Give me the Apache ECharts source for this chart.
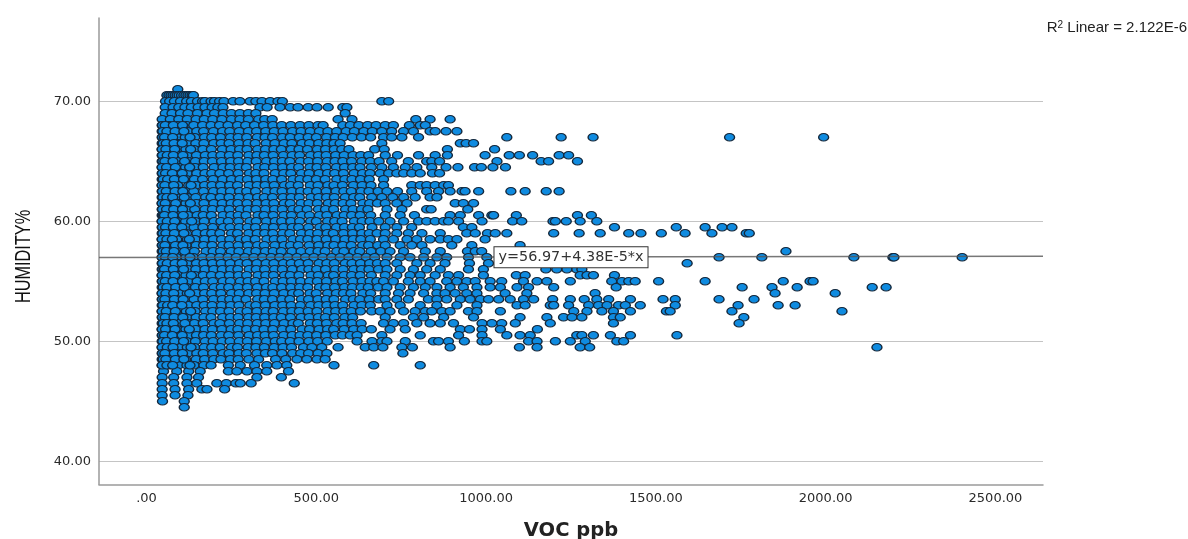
<!DOCTYPE html>
<html><head><meta charset="utf-8">
<style>html,body{margin:0;padding:0;background:#fff}#c{width:1188px;height:539px}</style>
<script src="https://cdn.jsdelivr.net/npm/echarts@6/dist/echarts.min.js"></script>
</head><body><div id="c"></div>
<script>
const xTicks=[0,500,1000,1500,2000,2500];
const yTicks=[40,50,60,70];
const fitIntercept=56.97, fitSlope=4.38e-5;
const xRange=[-140,2640];
const humidityLevels=[71,70.5,70,69.5,69,68.5,68,67.5,67,66.5,66,65.5,65,64.5,64,63.5,63,62.5,62,61.5,61,60.5,60,59.5,59,58.5,58,57.5,57,56.5,56,55.5,55,54.5,54,53.5,53,52.5,52,51.5,51,50.5,50,49.5,49,48.5,48,47.5,47,46.5,46,45.5,45,44.5];
const vocAtLevel=[
[92],
[60,66,72,78,84,90,96,103,110,116,122,128,134,138],
[56,68,82,100,118,132,150,165,172,190,200,215,228,255,275,305,322,340,364,387,400,693,713],
[55,78,95,113,132,152,172,193,210,225,334,355,393,423,446,476,502,535,578,590],
[55,75,100,122,150,178,200,226,250,275,300,322,585],
[46,70,95,120,146,170,195,222,250,275,300,330,348,370,564,605,793,835,894],
[46,66,92,118,139,165,190,215,240,268,292,318,345,372,398,425,452,478,505,520,578,600,625,651,676,703,727,774,806,821],
[46,72,96,121,148,168,197,224,245,273,300,324,351,376,402,430,455,482,509,534,560,588,612,640,665,693,722,757,786,835,850,882,914],
[46,64,90,114,142,171,192,218,247,270,295,326,349,371,400,423,450,476,500,530,556,579,606,633,660,698,722,752,801,1061,1221,1315,1717,1994],
[46,70,93,122,145,169,198,220,243,272,299,320,352,378,405,428,458,480,507,531,552,570,693,924,941,963],
[46,68,98,116,140,166,191,223,249,274,296,327,350,375,397,426,449,474,503,527,553,575,596,672,700,886,1025],
[46,73,94,119,147,173,195,219,244,269,301,325,347,373,403,429,451,483,506,529,557,582,608,631,654,703,739,801,850,886,997,1068,1098,1137,1215,1243],
[46,65,91,123,144,170,194,221,248,271,298,323,353,377,400,422,453,477,504,532,555,578,604,634,659,685,722,771,825,840,863,1032,1162,1184,1269],
[46,71,97,115,143,167,199,225,246,273,294,328,348,374,401,427,448,481,502,528,559,583,607,629,662,693,727,762,796,840,882,917,966,986,1020,1057],
[46,67,89,120,148,172,192,216,242,270,303,322,346,379,404,425,456,479,508,533,554,580,611,636,658,688,713,737,757,781,806,842,863],
[46,74,99,117,141,165,196,224,250,275,297,324,351,372,398,431,452,475,500,526,560,584,605,630,656,698],
[46,69,92,124,146,171,193,218,245,268,302,326,349,376,406,424,447,482,505,534,552,577,609,635,661,698,781,806,825,850,875,889],
[46,63,95,118,139,168,197,222,247,274,295,321,354,378,399,428,454,476,501,529,558,581,603,632,655,682,708,739,781,825,860,894,929,938,978,1073,1115,1177,1215],
[46,72,90,121,145,174,190,217,243,272,300,327,347,371,402,426,450,484,507,530,553,585,610,628,663,693,725,757,791,835,855],
[46,66,96,116,147,169,198,223,249,269,296,325,352,375,405,423,455,478,503,535,556,579,602,637,657,680,703,737,767,909,933,963],
[46,70,93,119,142,172,194,220,244,276,299,322,350,377,400,430,449,473,506,527,551,586,608,633,652,708,752,825,838,946],
[46,64,98,122,149,167,191,225,248,270,293,328,346,373,404,427,457,480,509,531,561,582,604,629,660,703,747,789,894,924,978,1017,1022,1089,1269,1310],
[46,75,91,115,144,170,199,219,241,271,304,323,353,379,398,425,451,483,500,533,554,576,612,635,658,684,717,757,801,825,850,875,889,919,988,1078,1105,1197,1204,1236,1277,1326],
[46,68,97,123,140,166,195,226,246,273,297,321,349,374,403,429,448,477,510,528,559,583,606,627,664,703,737,781,933,958,1378,1560,1645,1695,1724],
[46,71,94,118,148,173,192,216,250,268,301,326,348,372,401,422,456,481,504,532,550,580,607,634,656,679,703,737,771,811,865,943,968,1004,1027,1061,1199,1274,1336,1420,1456,1516,1586,1665,1766,1775],
[46,65,89,120,143,171,197,221,245,275,294,320,354,376,399,431,453,475,502,529,557,584,609,631,659,698,727,767,796,835,865,889,914,997],
[46,73,99,117,146,168,193,224,243,270,298,327,347,378,405,424,447,479,507,534,552,578,603,636,654,681,703,747,781,811,899,958,1100],
[46,69,92,124,141,175,196,218,249,272,300,322,350,373,397,428,455,482,505,526,560,581,611,628,661,690,717,757,821,865,945,968,987,1883],
[46,52,64,88,116,138,165,190,215,240,264,290,316,342,367,392,417,443,468,493,519,545,570,596,621,647,672,708,747,776,816,855,884,948,1002,1686,1812,2083,2198,2201,2402],
[46,72,95,119,147,169,194,220,246,274,296,325,352,375,403,426,450,476,508,531,553,585,605,630,657,680,703,737,796,835,879,951,1007,1592],
[46,66,90,121,145,172,198,223,248,269,302,323,348,377,400,429,457,478,501,527,556,579,610,633,655,683,708,747,786,825,865,948,992,1176,1208,1238,1267,1282],
[46,70,97,116,142,167,191,217,244,271,295,328,351,374,406,423,449,484,506,535,551,582,604,629,662,703,737,776,806,850,889,919,992,1089,1115,1277,1297,1316,1378],
[46,64,93,122,149,173,195,225,247,276,299,321,346,379,402,427,454,480,503,530,558,577,608,635,658,678,698,727,771,806,835,884,914,943,968,1012,1046,1110,1150,1179,1248,1370,1400,1420,1439,1508,1645,1875,1954,1963],
[46,74,91,118,144,168,199,220,242,270,297,326,353,372,398,425,451,475,509,528,554,583,606,632,653,682,708,747,786,821,855,894,933,973,1012,1042,1091,1125,1199,1383,1754,1842,1916,2137,2178],
[46,67,96,120,147,171,192,219,250,273,301,324,349,376,404,430,448,481,500,533,559,580,602,637,660,703,742,776,816,855,879,909,943,973,1056,1120,1321,1851,2028],
[46,71,89,115,140,166,197,223,245,268,293,327,347,371,399,422,456,477,505,529,552,586,609,628,656,684,703,737,771,830,855,884,924,953,983,1007,1037,1071,1110,1140,1196,1248,1289,1326,1361,1425,1521,1557,1686,1789],
[46,65,94,123,148,170,193,221,248,272,304,322,350,378,401,426,453,483,507,531,555,578,611,634,659,708,747,806,855,914,973,1091,1115,1189,1199,1243,1302,1331,1356,1390,1410,1454,1557,1742,1860,1910],
[46,73,98,117,143,174,195,218,243,275,296,325,352,373,403,428,450,476,502,534,557,581,603,630,663,688,717,757,791,821,840,870,894,948,973,1042,1258,1297,1341,1375,1425,1531,1542,1724,2048],
[46,68,92,119,146,169,190,224,247,270,300,323,348,375,397,424,455,479,506,527,553,584,607,703,786,816,875,963,1100,1179,1228,1253,1282,1375,1395,1759],
[46,70,95,121,141,167,198,216,244,274,298,326,351,377,405,431,447,482,503,530,560,579,605,632,698,727,757,796,835,865,904,988,1017,1046,1086,1189,1375,1745],
[46,63,90,116,145,172,194,222,249,269,295,321,346,372,400,425,458,480,508,533,551,582,610,635,662,717,762,924,951,988,1042,1151],
[46,72,96,124,147,168,191,220,242,271,302,327,349,374,404,429,452,475,501,528,556,577,600,620,693,806,919,988,1061,1100,1130,1267,1282,1316,1366,1425,1562],
[46,69,93,118,144,173,196,223,246,273,297,324,353,379,398,423,449,478,504,532,620,664,693,708,762,845,860,889,936,988,1002,1125,1150,1204,1248,1292,1385,1405],
[46,66,99,120,142,170,192,217,250,268,299,322,347,376,402,427,462,487,516,564,644,669,696,752,783,894,1098,1150,1277,1305,2151],
[46,74,91,122,148,167,195,225,243,272,294,325,350,371,399,430,454,477,505,531,755],
[46,68,97,115,146,171,198,219,247,270,301,330,380,410,443,472,502,526],
[46,70,94,119,140,169,190,241,276,318,354,384,413,552,669,806],
[50,89,124,158,241,266,296,325,354,418],
[46,80,119,153,325,397],
[46,80,119,148,207,235,263,276,308,435],
[46,84,124,163,178,230],
[46,84,122],
[47,111],
[111]
];
const clusterLevels=[68,67.5,67,66.5,66,65.5,65,64.5,64,63.5,63,62.5,62,61.5,61,60.5,60,59.5,59,58.5,58,57.5,57,56.5,56,55.5,55,54.5,54,53.5,53,52.5,52,51.5,51,50.5,50,49.5,49,48.5,48];
const vocClusterNearMin=[
[47,55,79,106],[48,60,84,110],[47,53,77,128],[49,58,81,105],[46,57,83,130],[47,61,79,107],[48,54,78,112],[46,59,85,127],[47,56,76,105],[49,62,82,109],
[46,54,80,131],[47,58,84,107],[48,60,77,111],[46,55,86,129],[47,59,80,106],[49,53,78,108],[46,61,83,133],[47,56,79,104],[48,57,82,110],[46,60,76,126],
[47,54,85,107],[49,58,81,112],[46,56,77,128],[47,61,84,105],[48,53,79,109],[46,59,83,132],[47,55,78,106],[49,60,86,111],[46,57,80,127],[47,54,82,108],
[48,62,77,104],[46,58,85,130],[47,55,81,107],[49,60,79,113],[46,56,84,126],[47,53,76,105],[48,59,83,109],[46,61,78,131],[47,54,82,106],[49,57,85,110],[46,60,77,128]
];
const points=[];
humidityLevels.forEach((h,i)=>vocAtLevel[i].forEach(v=>points.push([v,h])));
clusterLevels.forEach((h,i)=>vocClusterNearMin[i].forEach(v=>points.push([v,h])));
const fitLine=[[xRange[0],fitIntercept+fitSlope*xRange[0]],[xRange[1],fitIntercept+fitSlope*xRange[1]]];
const tickFont={fontFamily:'DejaVu Sans',fontSize:13,color:'#2a2a2a'};
const chart=echarts.init(document.getElementById('c'),null,{renderer:'canvas'});
chart.setOption({
 animation:false,
 backgroundColor:'#fff',
 title:{right:1,top:20,padding:0,text:'{a|R}{b|2}{a| Linear = 2.122E-6}',textStyle:{fontWeight:'normal',rich:{
   a:{fontFamily:'Liberation Sans',fontWeight:'normal',fontSize:15,color:'#222'},
   b:{fontFamily:'Liberation Sans',fontWeight:'normal',fontSize:10,color:'#222',padding:[0,0,6,0]}}}},
 graphic:[{type:'text',x:13,y:303,rotation:Math.PI/2,scaleX:0.74,silent:true,
   style:{text:'HUMIDITY%',fontFamily:'Liberation Sans',fontSize:22,fill:'#111'}}],
 grid:{left:99,right:145,top:18,bottom:54.5,outerBoundsMode:'none'},
 xAxis:{type:'value',min:xRange[0],max:xRange[1],name:'VOC ppb',nameLocation:'middle',nameGap:36,
  nameTextStyle:{fontFamily:'DejaVu Sans',fontWeight:'bold',fontSize:19.5,color:'#222'},
  axisLine:{onZero:false,lineStyle:{color:'#9a9a9a',width:1.5}},
  axisTick:{show:false,customValues:xTicks},
  axisLabel:{...tickFont,margin:8,customValues:xTicks,formatter:v=>v===0?'.00':v.toFixed(2)},
  splitLine:{show:false}},
 yAxis:{type:'value',min:38.06,max:76.93,
  axisLine:{onZero:false,lineStyle:{color:'#9a9a9a',width:1.5}},
  axisTick:{show:false,customValues:yTicks},
  axisLabel:{...tickFont,margin:8,customValues:yTicks,formatter:v=>v.toFixed(2)},
  splitLine:{show:true,lineStyle:{color:'#c4c4c4',width:1}}},
 series:[
  {type:'scatter',data:points,symbol:'circle',symbolSize:[10,7.5],large:false,progressive:0,silent:true,z:3,
   itemStyle:{color:'#0f8be0',borderColor:'#14283c',borderWidth:1.2,opacity:1}},
  {type:'line',data:fitLine,symbol:'none',silent:true,z:4,lineStyle:{color:'#555',width:1.5,opacity:0.8},
   markPoint:{symbol:'rect',symbolSize:0,silent:true,z:6,
    data:[{coord:[1250,57.0]}],
    label:{show:true,position:'inside',formatter:'y=56.97+4.38E-5*x',fontFamily:'DejaVu Sans',fontSize:14.4,color:'#333',
     backgroundColor:'#fff',borderColor:'#333',borderWidth:1,padding:[3,4,3,4]}}}
 ]
});
</script></body></html>
